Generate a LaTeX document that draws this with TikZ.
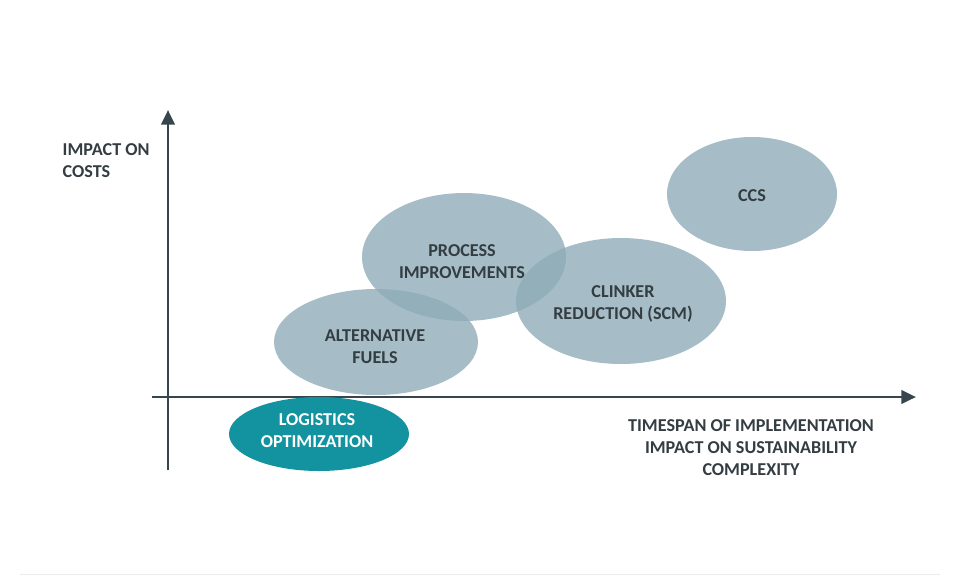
\documentclass[tikz,border=0pt]{standalone}
\usepackage{fontspec}
\setmainfont{Carlito}
\usetikzlibrary{arrows.meta}
\begin{document}
\begin{tikzpicture}[x=0.75pt,y=-0.75pt]
\definecolor{ax}{HTML}{37464C}
\definecolor{bub}{HTML}{8DABB7}
\definecolor{teal}{HTML}{13939F}
\definecolor{txt}{HTML}{333D42}
\tikzset{bubble/.style={fill=bub,fill opacity=0.78,draw=none},
 lbl/.style={text=txt,font=\bfseries\fontsize{13.6}{16.5}\selectfont,align=center}}
\useasboundingbox (0,0) rectangle (960,576);
\draw[gray!15] (20,574) -- (940,574);
\coordinate (yb) at (168,470); \coordinate (yt) at (168,110);
\coordinate (xl) at (152,397); \coordinate (xr) at (916,397);
\draw[ax,line width=2.2pt,-{Triangle[length=11pt,width=10pt]}] (yb) -- (yt);
\draw[ax,line width=2.2pt,-{Triangle[length=11pt,width=10pt]}] (xl) -- (xr);
\fill[bubble] (752,194) ellipse [x radius=85,y radius=57];
\fill[bubble] (464,257) ellipse [x radius=102,y radius=64];
\fill[bubble] (621,301) ellipse [x radius=105,y radius=63];
\fill[bubble] (376,342) ellipse [x radius=102,y radius=53];
\fill[teal] (319,434) ellipse [x radius=90,y radius=37];
\node[lbl] (ccs) at (752,196) {CCS};
\node[lbl] (pi) at (462,262) {PROCESS\\IMPROVEMENTS};
\node[lbl] (cr) at (623,304) {CLINKER\\REDUCTION (SCM)};
\node[lbl] (af) at (375,347) {ALTERNATIVE\\FUELS};
\node[lbl,text=white] (lo) at (317,431) {LOGISTICS\\OPTIMIZATION};
\node[lbl,align=left,anchor=north west] (ic) at (58,139) {IMPACT ON\\COSTS};
\node[lbl,anchor=north] (ts) at (751,415) {TIMESPAN OF IMPLEMENTATION\\IMPACT ON SUSTAINABILITY\\COMPLEXITY};
\end{tikzpicture}
\end{document}
